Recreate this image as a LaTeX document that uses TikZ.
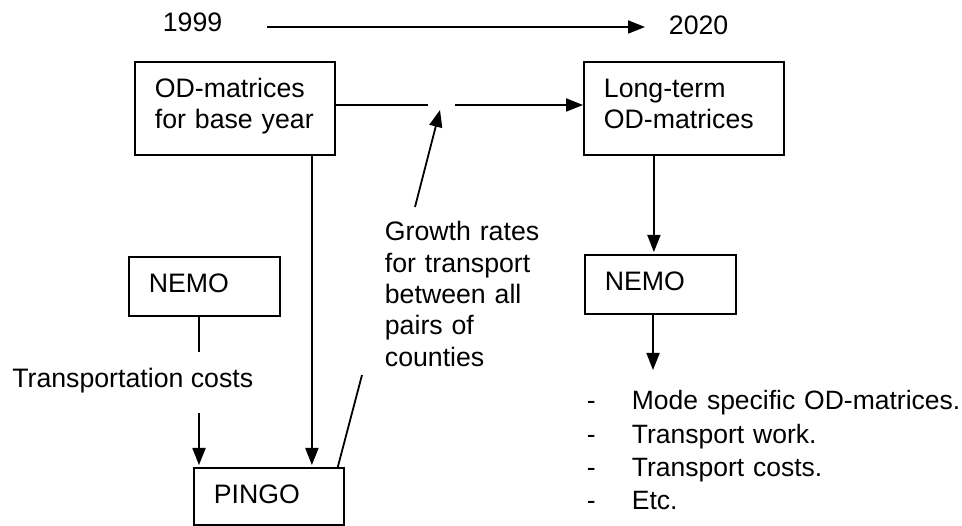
\documentclass[tikz,border=0pt]{standalone}
\usepackage{fontspec}
\setmainfont{Liberation Sans}
\usetikzlibrary{arrows.meta,calc}
\tikzset{
  box/.style={rectangle, draw=black, line width=1.8pt, inner xsep=20pt, inner ysep=0pt,
    align=left, anchor=north west, text height=35.5pt},
  bigbox/.style={box, text width=160pt, text depth=57.5pt},
  smallbox/.style={box, text width=111pt, text depth=24pt},
  connect/.style={-{Triangle[length=17pt,width=13pt]}, line width=1.8pt},
  txt/.style={inner sep=0pt, anchor=base west}
}

\begin{document}
\begin{tikzpicture}[x=1pt, y=-1pt, line width=1.8pt,
    every node/.style={font=\fontsize{26.7}{31.3}\selectfont}]
  \useasboundingbox (0,0) rectangle (962,526);

  % years and time axis
  \node[txt] (y1999) at (162,32) {1999};
  \node[txt] (y2020) at (668,35) {2020};
  \coordinate (tA) at (267,27);
  \coordinate (tB) at (645,27);
  \draw[connect] (tA) -- (tB);

  % boxes
  \node[bigbox] (base) at (134,61) {OD-matrices\\for base year};
  \node[bigbox] (longterm) at (583,61) {Long-term\\OD-matrices};
  \node[smallbox] (nemoA) at (128,256) {NEMO};
  \node[smallbox] (nemoB) at (584,254) {NEMO};
  \node[smallbox, text width=110pt, text depth=22pt] (pingo) at (193,467) {PINGO};

  % texts
  \node[txt, text width=170pt] (growth) at (384,241)
    {Growth rates\\for transport\\between all\\pairs of\\counties};
  \node[txt] (tcost) at (11.4,388) {Transportation costs};
  \node[txt, text width=440pt, align=left, font=\fontsize{26.5}{33.3}\selectfont] (results) at (586,410)
    {\makebox[45pt][l]{-}Mode specific OD-matrices.\\
     \makebox[45pt][l]{-}Transport work.\\
     \makebox[45pt][l]{-}Transport costs.\\
     \makebox[45pt][l]{-}Etc.};

  % base year to long term
  \coordinate (gapL) at (428,105);
  \coordinate (gapR) at (455,105);
  \draw (base.east |- gapL) -- (gapL);
  \draw[connect] (gapR) -- (gapR -| longterm.west);

  % growth rates
  \coordinate (gtail) at (415,207);
  \coordinate (gtip) at (440,110);
  \coordinate (glow) at (362,375);
  \draw[connect] (gtail) -- (gtip);
  \draw (glow) -- ([xshift=-7pt]pingo.north east);

  % into PINGO
  \draw[connect, shorten >=2pt] ([xshift=77pt]base.south) -- ([xshift=77pt]base.south |- pingo.north);
  \coordinate (tcA) at (199,352);
  \coordinate (tcB) at (199,413);
  \draw (nemoA.south -| tcA) -- (tcA);
  \draw[connect, shorten >=2pt] (tcB) -- (tcB |- pingo.north);

  % long term to NEMO and results
  \draw[connect, shorten >=2pt] ([xshift=-30pt]longterm.south) -- ([xshift=-30pt]longterm.south |- nemoB.north);
  \coordinate (outtip) at (653,370);
  \draw[connect] (nemoB.south -| outtip) -- (outtip);
\end{tikzpicture}
\end{document}
